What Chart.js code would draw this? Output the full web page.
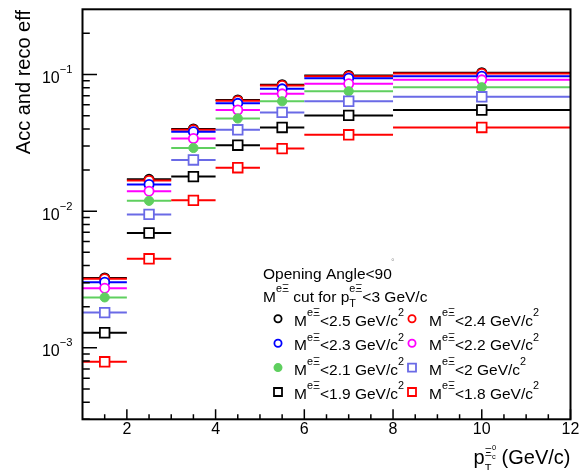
<!DOCTYPE html>
<html>
<head>
<meta charset="utf-8">
<script src="https://cdn.jsdelivr.net/npm/chart.js@4.4.1/dist/chart.umd.min.js"></script>
<style>
html,body{margin:0;padding:0;background:#ffffff;}
#c{display:block;}
</style>
</head>
<body>
<canvas id="c" width="581" height="470"></canvas>
<script>
// ---- data ----
const binEdges   = [1, 2, 3, 4, 5, 6, 8, 12];
const binCenters = [1.5, 2.5, 3.5, 4.5, 5.5, 7, 10];

const effM25 = [3.25e-3, 0.0171, 0.0400, 0.0652, 0.0842, 0.0985, 0.1030];
const effM24 = [3.20e-3, 0.0168, 0.0394, 0.0644, 0.0830, 0.0972, 0.1017];
const effM23 = [3.02e-3, 0.0157, 0.0381, 0.0615, 0.0785, 0.0939, 0.0972];
const effM22 = [2.73e-3, 0.0140, 0.0340, 0.0550, 0.0722, 0.0855, 0.0914];
const effM21 = [2.34e-3, 0.0119, 0.0290, 0.0477, 0.0637, 0.0754, 0.0807];
const effM20 = [1.81e-3, 0.00947, 0.0237, 0.0394, 0.0528, 0.0637, 0.0687];
const effM19 = [1.29e-3, 0.00692, 0.0179, 0.0304, 0.0410, 0.0502, 0.0550];
const effM18 = [7.9e-4, 0.00448, 0.0120, 0.0208, 0.0287, 0.0362, 0.0410];

const cutLabels = ['2.5', '2.4', '2.3', '2.2', '2.1', '2', '1.9', '1.8'];

const xMajorTicks = [2, 4, 6, 8, 10, 12];
const xMinorTicks = [1.5, 2.5, 3, 3.5, 4.5, 5, 5.5, 6.5, 7, 7.5, 8.5, 9, 9.5, 10.5, 11, 11.5];
const yDecadeTicks = [1e-3, 1e-2, 1e-1];
const yDecadeExp   = ['\u22123', '\u22122', '\u22121'];
const yMinorMantissa = [2, 3, 4, 5, 6, 7, 8, 9];
const yMinorDecades  = [1e-4, 1e-3, 1e-2, 1e-1];

const xRange = [1, 12];
const yRange = [3e-4, 0.3];

// ---- styles ----
const seriesStyles = [
  {color: '#000000', shape: 'circle', filled: false},
  {color: '#ff0000', shape: 'circle', filled: false},
  {color: '#0000ff', shape: 'circle', filled: false},
  {color: '#ff00ff', shape: 'circle', filled: false},
  {color: '#5fcf5f', shape: 'circle', filled: true},
  {color: '#6a6ae6', shape: 'rect',   filled: false},
  {color: '#000000', shape: 'rect',   filled: false},
  {color: '#ff0000', shape: 'rect',   filled: false}
];
const seriesValues = [effM25, effM24, effM23, effM22, effM21, effM20, effM19, effM18];

const FONT = '"Liberation Sans", Arial, Helvetica, sans-serif';
const f = (s) => s + 'px ' + FONT;

const datasets = [];
seriesValues.forEach((vals, i) => {
  const st = seriesStyles[i];
  const seg = [];
  binCenters.forEach((c, j) => {
    seg.push({x: binEdges[j], y: vals[j]});
    seg.push({x: binEdges[j + 1], y: vals[j]});
    seg.push({x: binEdges[j + 1], y: null});
  });
  datasets.push({
    label: 'err' + i, data: seg, showLine: true, spanGaps: false,
    borderColor: st.color, borderWidth: 2, pointRadius: 0, pointHoverRadius: 0,
    order: 1000 - 2 * i
  });
  datasets.push({
    label: 'M<' + cutLabels[i], data: binCenters.map((c, j) => ({x: c, y: vals[j]})),
    showLine: false,
    pointStyle: st.shape,
    pointRadius: st.shape === 'circle' ? 4.6 : 6.8,
    pointHoverRadius: st.shape === 'circle' ? 4.6 : 6.8,
    pointBorderWidth: st.filled ? 1 : 1.8,
    pointBorderColor: st.color,
    pointBackgroundColor: st.filled ? st.color : '#ffffff',
    order: 1000 - 2 * i - 1
  });
});

function drawParts(ctx, x, y, parts, size, doDraw) {
  let cx = x;
  for (const p of parts) {
    if (p.k === 'ss') {
      const s = size * 0.7;
      ctx.font = f(s);
      const w1 = ctx.measureText(p.sub).width;
      const w2 = ctx.measureText(p.sup).width;
      if (doDraw) {
        ctx.fillText(p.sub, cx, y + size * 0.35);
        ctx.fillText(p.sup, cx, y - size * 0.62);
      }
      cx += Math.max(w1, w2);
      continue;
    }
    let s = size, dy = 0;
    if (p.k === 'sup') { s = size * 0.7; dy = -size * 0.62; }
    else if (p.k === 'sub') { s = size * 0.7; dy = size * 0.3; }
    ctx.font = f(s);
    if (doDraw) ctx.fillText(p.t, cx, y + dy);
    cx += ctx.measureText(p.t).width;
  }
  return cx - x;
}

function drawMarker(ctx, st, x, y, r) {
  ctx.save();
  ctx.strokeStyle = st.color;
  ctx.fillStyle = st.filled ? st.color : '#ffffff';
  ctx.lineWidth = 1.8;
  ctx.beginPath();
  if (st.shape === 'circle') {
    ctx.arc(x, y, r, 0, Math.PI * 2);
  } else {
    ctx.rect(x - r, y - r, 2 * r, 2 * r);
  }
  ctx.fill();
  ctx.stroke();
  ctx.restore();
}

const rootStyle = {
  id: 'rootStyle',
  afterDraw(chart) {
    const ctx = chart.ctx;
    const xs = chart.scales.x, ys = chart.scales.y;
    const a = chart.chartArea;
    ctx.save();
    ctx.strokeStyle = '#000';
    ctx.fillStyle = '#000';
    ctx.lineWidth = 1.5;
    // y ticks
    ctx.beginPath();
    yDecadeTicks.forEach(v => {
      const py = ys.getPixelForValue(v);
      ctx.moveTo(a.left, py); ctx.lineTo(a.left + 14.5, py);
    });
    yMinorDecades.forEach(d => yMinorMantissa.forEach(m => {
      const v = d * m;
      if (v <= yRange[0] || v >= yRange[1]) return;
      const py = ys.getPixelForValue(v);
      ctx.moveTo(a.left, py); ctx.lineTo(a.left + 7.3, py);
    }));
    // x ticks
    xMajorTicks.forEach(v => {
      const px = xs.getPixelForValue(v);
      ctx.moveTo(px, a.bottom); ctx.lineTo(px, a.bottom - 10);
    });
    xMinorTicks.forEach(v => {
      const px = xs.getPixelForValue(v);
      ctx.moveTo(px, a.bottom); ctx.lineTo(px, a.bottom - 5);
    });
    ctx.stroke();
    // frame
    ctx.lineWidth = 2;
    ctx.strokeRect(a.left, a.top, a.right - a.left, a.bottom - a.top);

    // y tick labels
    ctx.textBaseline = 'alphabetic';
    yDecadeTicks.forEach((v, i) => {
      const py = ys.getPixelForValue(v);
      ctx.font = f(11.2);
      const wExp = ctx.measureText(yDecadeExp[i]).width;
      ctx.font = f(16);
      const wBase = ctx.measureText('10').width;
      const xr = 72.5;
      ctx.textAlign = 'left';
      ctx.fillText('10', xr - wExp - wBase, py + 8.5);
      ctx.font = f(11.2);
      ctx.fillText(yDecadeExp[i], xr - wExp, py - 1.5);
    });
    // x tick labels
    ctx.font = f(16);
    ctx.textAlign = 'center';
    xMajorTicks.forEach(v => {
      const px = xs.getPixelForValue(v);
      ctx.fillText(String(v), px, a.bottom + 15);
    });

    // y title
    ctx.save();
    ctx.translate(30, 10);
    ctx.rotate(-Math.PI / 2);
    ctx.textAlign = 'right';
    ctx.font = f(20);
    ctx.fillText('Acc and reco eff', 0, 0);
    ctx.restore();

    // x title: p_T^{Xi_c^0} (GeV/c)
    ctx.textAlign = 'left';
    const tSize = 20, base = 464;
    ctx.font = f(tSize);
    const wRest = ctx.measureText(' (GeV/c)').width;
    const wP = ctx.measureText('p').width;
    ctx.font = f(11);
    const wT = ctx.measureText('T').width;
    const wXi = ctx.measureText('\u039E').width;
    ctx.font = f(7.5);
    const wc = ctx.measureText('c').width;
    const w0 = ctx.measureText('0').width;
    const wStack = Math.max(wT, wXi + Math.max(wc, w0));
    const xStart = 570.5 - wRest - wStack - wP;
    ctx.font = f(tSize);
    ctx.fillText('p', xStart, base);
    ctx.font = f(11);
    ctx.fillText('T', xStart + wP, base + 8);
    ctx.fillText('\u039E', xStart + wP, base - 8);
    ctx.font = f(7.5);
    ctx.fillText('c', xStart + wP + wXi, base - 5);
    ctx.fillText('0', xStart + wP + wXi, base - 14);
    ctx.font = f(tSize);
    ctx.fillText(' (GeV/c)', xStart + wP + wStack, base);

    // legend
    const LS = 15.5;
    ctx.font = f(LS);
    ctx.fillText('Opening Angle<90', 263, 278.5);
    ctx.fillStyle = '#999';
    ctx.font = f(9);
    ctx.fillText('\u00B0', 391, 265);
    ctx.fillStyle = '#000';
    drawParts(ctx, 263, 302, [
      {t: 'M'}, {t: 'e\u039E', k: 'sup'}, {t: ' cut for p'},
      {k: 'ss', sub: 'T', sup: 'e\u039E'}, {t: '<3 GeV/c'}
    ], LS, true);
    const rowY = [318.7, 343.2, 367.6, 392];
    const colMarkX = [278, 412];
    const colTextX = [294, 429];
    cutLabels.forEach((lab, i) => {
      const row = Math.floor(i / 2), col = i % 2;
      const st = seriesStyles[i];
      drawMarker(ctx, st, colMarkX[col], rowY[row], st.shape === 'circle' ? 3.6 : 4);
      ctx.fillStyle = '#000';
      drawParts(ctx, colTextX[col], rowY[row] + 7, [
        {t: 'M'}, {t: 'e\u039E', k: 'sup'}, {t: '<' + lab + ' GeV/c'}, {t: '2', k: 'sup'}
      ], LS, true);
    });
    ctx.restore();
  }
};

new Chart(document.getElementById('c'), {
  type: 'scatter',
  data: {datasets},
  options: {
    responsive: false,
    animation: false,
    events: [],
    layout: {padding: {left: 82.5, right: 10.5, top: 9.3, bottom: 50.7}},
    scales: {
      x: {type: 'linear', min: xRange[0], max: xRange[1], display: false},
      y: {type: 'logarithmic', min: yRange[0], max: yRange[1], display: false}
    },
    plugins: {legend: {display: false}, tooltip: {enabled: false}}
  },
  plugins: [rootStyle]
});
</script>
</body>
</html>
